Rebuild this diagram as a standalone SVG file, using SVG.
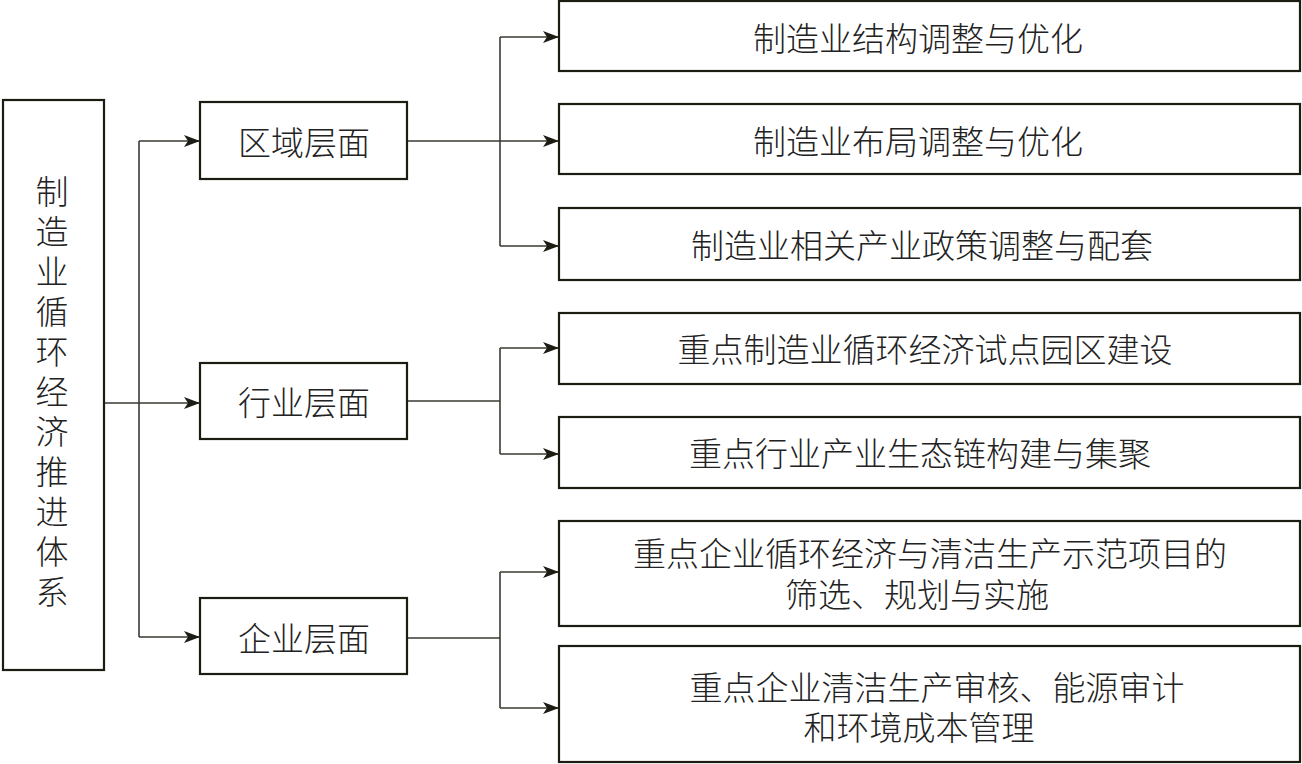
<svg xmlns="http://www.w3.org/2000/svg" width="1302" height="764" viewBox="0 0 1302 764">
<style>
.box{fill:#fff;stroke:#1c1c12;stroke-width:2.2}
.t{font-family:"Liberation Sans","Noto Sans CJK SC",sans-serif;font-size:33px;font-weight:300;fill:#222;text-anchor:middle;dominant-baseline:central}
.c{fill:none;stroke:#3a3a32;stroke-width:1.6}
.a{fill:none;stroke:#3a3a32;stroke-width:1.6;marker-end:url(#ah)}
</style>
<defs>
<marker id="ah" viewBox="0 0 16 12" refX="16" refY="6" markerWidth="16" markerHeight="12" markerUnits="userSpaceOnUse" orient="auto">
<path d="M0,0 L16,6 L0,12 L4,6 Z" fill="#1c1c12"/>
</marker>
</defs>
<rect width="1302" height="764" fill="#fff"/>
<g id="connectors">
<path class="a" d="M104,403 H200"/>
<path class="c" d="M139,141 V637"/>
<path class="a" d="M139,141 H200"/>
<path class="a" d="M139,637 H200"/>
<path class="a" d="M407,141 H559"/>
<path class="c" d="M500,37 V246"/>
<path class="a" d="M500,37 H559"/>
<path class="a" d="M500,246 H559"/>
<path class="c" d="M407,401 H500"/>
<path class="c" d="M500,348 V454"/>
<path class="a" d="M500,348 H559"/>
<path class="a" d="M500,454 H559"/>
<path class="c" d="M407,638 H500"/>
<path class="c" d="M500,572 V708"/>
<path class="a" d="M500,572 H559"/>
<path class="a" d="M500,708 H559"/>
</g>
<g id="root">
<rect class="box" x="3" y="100" width="101" height="570"/>
<text class="t" x="52" y="192">制</text>
<text class="t" x="52" y="232">造</text>
<text class="t" x="52" y="272">业</text>
<text class="t" x="52" y="312">循</text>
<text class="t" x="52" y="352">环</text>
<text class="t" x="52" y="392">经</text>
<text class="t" x="52" y="432">济</text>
<text class="t" x="52" y="472">推</text>
<text class="t" x="52" y="512">进</text>
<text class="t" x="52" y="552">体</text>
<text class="t" x="52" y="592">系</text>
</g>
<g id="regional">
<rect class="box" x="200" y="102" width="207" height="77"/>
<text class="t" x="304" y="143">区域层面</text>
</g>
<g id="industry">
<rect class="box" x="200" y="363" width="207" height="76"/>
<text class="t" x="304" y="403">行业层面</text>
</g>
<g id="enterprise">
<rect class="box" x="200" y="598" width="207" height="76"/>
<text class="t" x="304" y="639">企业层面</text>
</g>
<g id="r1">
<rect class="box" x="559" y="1" width="741" height="70"/>
<text class="t" x="918" y="39">制造业结构调整与优化</text>
</g>
<g id="r2">
<rect class="box" x="559" y="104" width="741" height="70"/>
<text class="t" x="918" y="142">制造业布局调整与优化</text>
</g>
<g id="r3">
<rect class="box" x="559" y="208" width="741" height="72"/>
<text class="t" x="922" y="246">制造业相关产业政策调整与配套</text>
</g>
<g id="r4">
<rect class="box" x="559" y="313" width="741" height="71"/>
<text class="t" x="925" y="350">重点制造业循环经济试点园区建设</text>
</g>
<g id="r5">
<rect class="box" x="559" y="417" width="741" height="71"/>
<text class="t" x="920" y="454">重点行业产业生态链构建与集聚</text>
</g>
<g id="r6">
<rect class="box" x="559" y="521" width="741" height="105"/>
<text class="t" x="930" y="554">重点企业循环经济与清洁生产示范项目的</text>
<text class="t" x="917" y="595">筛选、规划与实施</text>
</g>
<g id="r7">
<rect class="box" x="559" y="646" width="741" height="116"/>
<text class="t" x="937" y="688">重点企业清洁生产审核、能源审计</text>
<text class="t" x="919" y="728">和环境成本管理</text>
</g>
</svg>
